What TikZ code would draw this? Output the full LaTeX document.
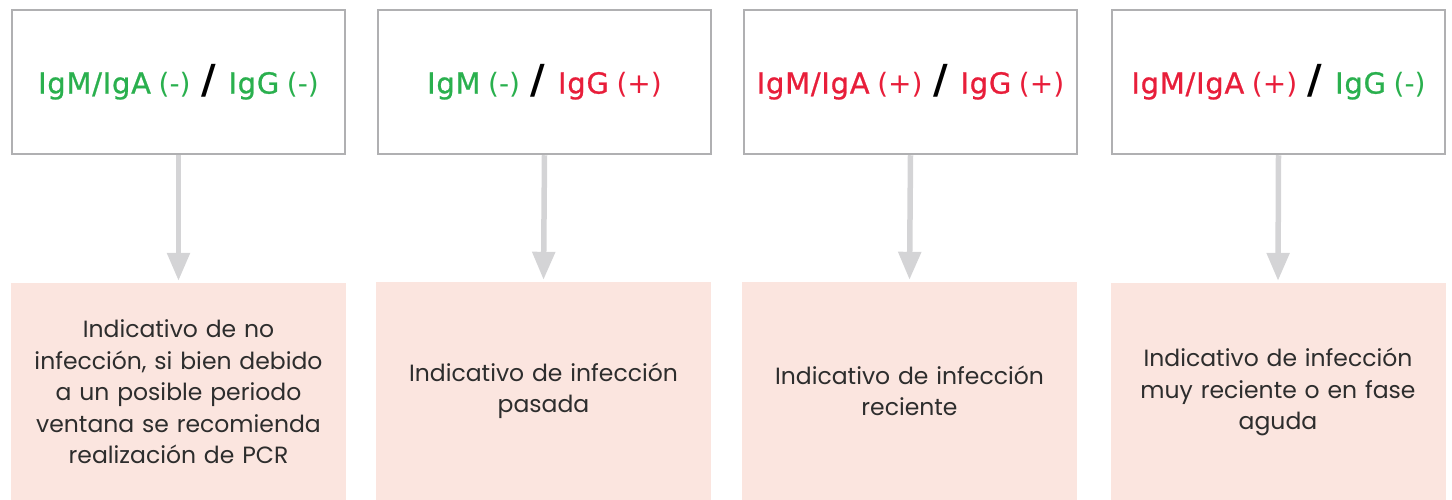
\documentclass[tikz,border=0pt]{standalone}
\usepackage{fontspec}
\setmainfont{Poppins}
\newfontfamily\topfont[LetterSpace=2.5,FakeBold=0.8]{DejaVu Sans}
\newfontfamily\parfont{DejaVu Sans}
\usetikzlibrary{arrows.meta}
\definecolor{posred}{RGB}{232,30,58}
\definecolor{neggreen}{RGB}{42,176,78}
\definecolor{boxgray}{RGB}{176,176,178}
\definecolor{arrgray}{RGB}{212,212,214}
\definecolor{peach}{RGB}{251,229,223}
\definecolor{txtgray}{RGB}{45,45,45}
\newcommand{\bigtxt}[1]{{\topfont\fontsize{29}{36}\selectfont #1}}
\newcommand{\smtxt}[1]{{\parfont\fontsize{28}{28}\selectfont #1}}
\newcommand{\slsh}{\hspace{3pt}{\parfont\fontsize{40}{40}\selectfont\bfseries\color{black}/}\hspace{5pt}}
\tikzset{
  testbox/.style={draw=boxgray, line width=2.5pt, fill=white, minimum width=333pt, minimum height=144pt, inner sep=0pt, font=\parfont\fontsize{24}{34}\selectfont},
  resbox/.style={fill=peach, minimum width=335pt, minimum height=218pt, inner sep=0pt, text width=330pt, align=center, text=txtgray, font=\fontsize{23.5}{31.5}\selectfont},
  conn/.style={draw=arrgray, line width=5.5pt, -{Triangle[length=28pt,width=22pt]}, shorten >=2pt},
}
\begin{document}
\begin{tikzpicture}[x=1pt,y=-1pt]
\useasboundingbox (0,0) rectangle (1452,500);
\node[testbox] (t1) at (178.5,82) {\color{neggreen}\bigtxt{IgM/IgA} \smtxt{(-)} \slsh{} \bigtxt{IgG} \smtxt{(-)}};
\node[testbox] (t2) at (544.5,82) {\color{neggreen}\bigtxt{IgM} \smtxt{(-)} \slsh{} \color{posred}\bigtxt{IgG} \smtxt{(+)}};
\node[testbox] (t3) at (910.5,82) {\color{posred}\bigtxt{IgM/IgA} \smtxt{(+)} \slsh{} \bigtxt{IgG} \smtxt{(+)}};
\node[testbox] (t4) at (1278.5,82) {\color{posred}\bigtxt{IgM/IgA} \smtxt{(+)} \slsh{} \color{neggreen}\bigtxt{IgG} \smtxt{(-)}};
\node[resbox] (r1) at (178.5,392) {Indicativo de no\\ infección, si bien debido\\ a un posible periodo\\ ventana se recomienda\\ realización de PCR};
\node[resbox] (r2) at (543.5,391) {Indicativo de infección\\ pasada};
\node[resbox] (r3) at (909.5,391) {Indicativo de infección\\ reciente};
\node[resbox] (r4) at (1278,392) {Indicativo de infección\\ muy reciente o en fase\\ aguda};
\draw[conn] (t1.south) -- (r1.north);
\draw[conn] (t2.south) -- (r2.north);
\draw[conn] (t3.south) -- (r3.north);
\draw[conn] (t4.south) -- (r4.north);
\end{tikzpicture}
\end{document}
